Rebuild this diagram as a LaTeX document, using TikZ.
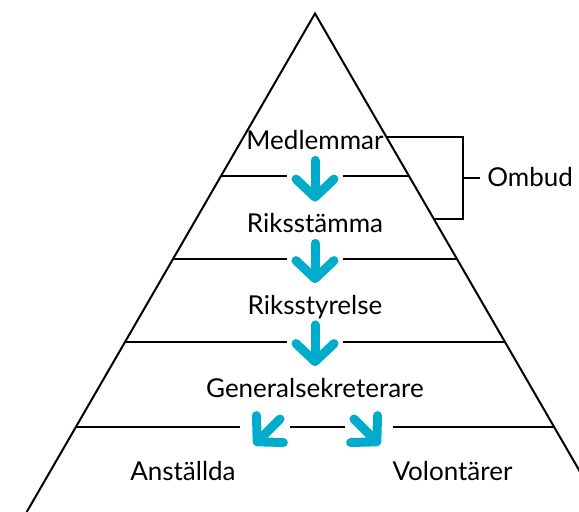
\documentclass[tikz,border=0pt]{standalone}
\usepackage{fontspec}
\setmainfont{Lato}
\usepackage{tikz}
\usetikzlibrary{
    positioning,
    arrows.meta,
    calc
}
\definecolor{flowBlue}{RGB}{0, 172, 204}

\begin{document}
\begin{tikzpicture}[x=0.5pt, y=-0.5pt,
    level/.style={font=\fontsize{13}{15}\selectfont, inner sep=0pt, text height=9pt, text depth=0pt},
    flow/.style={line width=4.5pt, flowBlue, line cap=round, -{Straight Barb[round, length=9pt, width=19pt]}},
    rim/.style={line width=1pt, black}]
    \useasboundingbox (0,0) rectangle (579,512);
    \clip (0,0) rectangle (579,512);

    % Triangle (its base lies below the picture)
    \coordinate (Top) at (315,13.5);
    \coordinate (BL) at (26.7,512);
    \coordinate (BR) at (603.3,512);
    \draw[rim] (BL) -- (Top) -- (BR);

    % Layer lines on the triangle sides
    \foreach \t [count=\i] in {0.326,0.4925,0.659,0.8295} {
        \coordinate (L\i) at ($(Top)!\t!(BL)$);
        \coordinate (R\i) at ($(Top)!\t!(BR)$);
    }
    \coordinate (gapL) at (287,0);
    \coordinate (gapR) at (343,0);
    \foreach \i in {1,2,3} {
        \draw[rim] (L\i) -- (L\i -| gapL) (R\i -| gapR) -- (R\i);
    }
    % Bottom line has two gaps
    \coordinate (g1) at (240,0);
    \coordinate (g2) at (290,0);
    \coordinate (g3) at (345,0);
    \coordinate (g4) at (393,0);
    \draw[rim] (L4) -- (L4 -| g1) (L4 -| g2) -- (L4 -| g3) (L4 -| g4) -- (R4);

    % Levels
    \node[level] (med) at (315,141) {Medlemmar};
    \node[level] (riks) at (315,224) {Riksstämma};
    \node[level] (styr) at (315,305.5) {Riksstyrelse};
    \node[level] (gen) at (315,388.5) {Generalsekreterare};
    \node[level] (anst) at (183,471.5) {Anställda};
    \node[level] (vol) at (452.5,471.5) {Volontärer};

    % Flow downwards
    \draw[flow, shorten <=5pt, shorten >=6.5pt] (med) -- (riks);
    \draw[flow, shorten <=5pt, shorten >=6.5pt] (riks) -- (styr);
    \draw[flow, shorten <=5pt, shorten >=6.5pt] (styr) -- (gen);
    \coordinate (aFrom) at (280,419);
    \coordinate (aTo) at (254,445);
    \coordinate (vFrom) at (354,419);
    \coordinate (vTo) at (380,445);
    \draw[flow] (aFrom) -- (aTo);
    \draw[flow] (vFrom) -- (vTo);

    % Bracket for Ombud
    \coordinate (bTop) at ($(Top)!0.2477!(BR)$);
    \coordinate (bBot) at ($(Top)!0.4122!(BR)$);
    \coordinate (bx) at (463,0);
    \draw[rim] (bTop) -- (bTop -| bx) -- (bBot -| bx) -- (bBot);
    \coordinate (brM) at (463,178);
    \coordinate (tick) at (480,178);
    \draw[rim] (brM) -- (tick);
    \node[level, right=3.5pt of tick] (ombud) {Ombud};
\end{tikzpicture}
\end{document}
